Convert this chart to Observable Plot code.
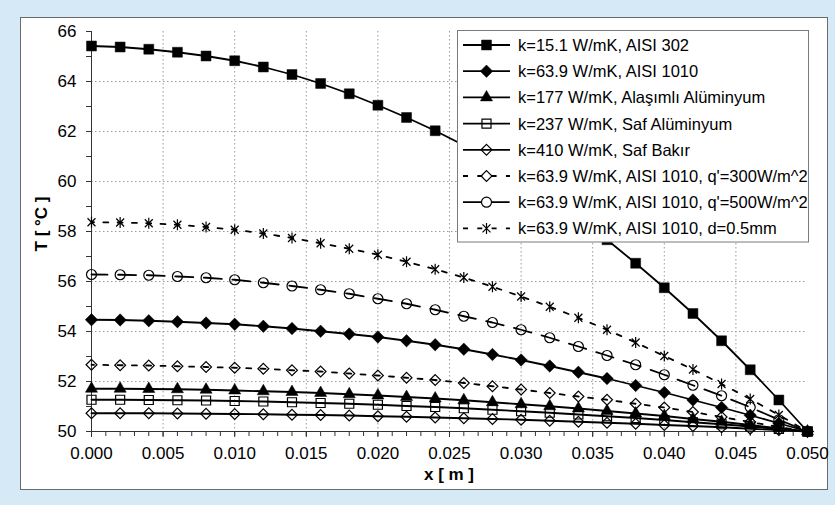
<!DOCTYPE html>
<html><head><meta charset="utf-8">
<script src="https://cdn.jsdelivr.net/npm/d3@7"></script>
<script src="https://cdn.jsdelivr.net/npm/@observablehq/plot@0.6"></script>
<style>
body{margin:0;background:#d6e9f7;}
#wrap{position:relative;width:835px;height:505px;background:#d6e9f7;overflow:hidden;font-family:"Liberation Sans",Arial,sans-serif;}
#frame{position:absolute;left:20px;top:17px;width:808px;height:473px;background:#fff;border:1px solid #6b6b6b;box-sizing:border-box;}
#chart{position:absolute;left:0;top:0;}
.title{position:absolute;font-weight:bold;font-size:17px;color:#000;white-space:nowrap;line-height:1;}
#legend{position:absolute;left:0;top:0;}
</style></head>
<body><div id="wrap"><div id="frame"></div><div id="chart"></div>
<div class="title" id="xt" style="left:449px;top:474px;transform:translate(-50%,-50%);">x [ m ]</div>
<div class="title" id="yt" style="left:41px;top:224px;transform:translate(-50%,-50%) rotate(-90deg);">T [ °C ]</div>
<svg id="legend" width="835" height="505"></svg></div>
<script>
// ---- data ----
const xs = [0,0.002,0.004,0.006,0.008,0.010,0.012,0.014,0.016,0.018,0.020,0.022,0.024,0.026,0.028,0.030,0.032,0.034,0.036,0.038,0.040,0.042,0.044,0.046,0.048,0.050];
const seriesNames = [
  "k=15.1 W/mK, AISI 302",
  "k=63.9 W/mK, AISI 1010",
  "k=177 W/mK, Alaşımlı Alüminyum",
  "k=237 W/mK, Saf Alüminyum",
  "k=410 W/mK, Saf Bakır",
  "k=63.9 W/mK, AISI 1010, q'=300W/m^2",
  "k=63.9 W/mK, AISI 1010, q'=500W/m^2",
  "k=63.9 W/mK, AISI 1010, d=0.5mm"
];
const tAISI302 = [65.42,65.38,65.29,65.17,65.02,64.83,64.58,64.28,63.92,63.51,63.05,62.56,62.03,61.45,60.82,60.13,59.38,58.56,57.67,56.73,55.75,54.72,53.63,52.47,51.26,50.00];
const tAISI1010 = [54.47,54.46,54.43,54.39,54.34,54.29,54.21,54.12,54.01,53.90,53.78,53.63,53.47,53.29,53.08,52.86,52.62,52.37,52.12,51.84,51.56,51.26,50.96,50.65,50.33,50.00];
const tAlasimli = [51.71,51.71,51.70,51.69,51.67,51.64,51.61,51.58,51.54,51.49,51.44,51.38,51.32,51.25,51.17,51.09,51.01,50.92,50.82,50.72,50.62,50.50,50.39,50.26,50.13,50.00];
const tSafAl = [51.27,51.27,51.26,51.25,51.24,51.22,51.20,51.17,51.14,51.11,51.07,51.02,50.98,50.93,50.87,50.81,50.75,50.68,50.61,50.54,50.46,50.37,50.29,50.20,50.10,50.00];
const tSafBakir = [50.73,50.73,50.73,50.72,50.71,50.70,50.69,50.67,50.66,50.64,50.61,50.59,50.56,50.53,50.50,50.47,50.43,50.39,50.35,50.31,50.26,50.22,50.17,50.11,50.06,50.00];
const tQ300 = [52.67,52.65,52.64,52.61,52.58,52.55,52.51,52.45,52.40,52.32,52.24,52.15,52.06,51.94,51.81,51.68,51.54,51.40,51.27,51.11,50.96,50.78,50.58,50.38,50.18,50.00];
const tQ500 = [56.28,56.27,56.25,56.20,56.15,56.07,55.95,55.82,55.67,55.51,55.31,55.11,54.87,54.61,54.36,54.07,53.75,53.40,53.04,52.67,52.27,51.85,51.43,50.97,50.47,50.00];
const tD05 = [58.37,58.36,58.33,58.27,58.18,58.07,57.92,57.74,57.53,57.31,57.07,56.79,56.49,56.16,55.79,55.40,54.99,54.55,54.07,53.56,53.02,52.48,51.90,51.30,50.66,50.00];
const xMajor = [0,0.005,0.010,0.015,0.020,0.025,0.030,0.035,0.040,0.045,0.050];
const xMinor = [0,0.001,0.002,0.003,0.004,0.005,0.006,0.007,0.008,0.009,0.010,0.011,0.012,0.013,0.014,0.015,0.016,0.017,0.018,0.019,0.020,0.021,0.022,0.023,0.024,0.025,0.026,0.027,0.028,0.029,0.030,0.031,0.032,0.033,0.034,0.035,0.036,0.037,0.038,0.039,0.040,0.041,0.042,0.043,0.044,0.045,0.046,0.047,0.048,0.049,0.050];
const yMajor = [50,52,54,56,58,60,62,64,66];
const yMinor = [50,51,52,53,54,55,56,57,58,59,60,61,62,63,64,65,66];

// ---- styles ----
const asterisk = {draw(ctx, size){ const r = Math.sqrt(size/Math.PI); const d = r*0.72;
  ctx.moveTo(0,-r); ctx.lineTo(0,r); ctx.moveTo(-d,-d); ctx.lineTo(d,d); ctx.moveTo(-d,d); ctx.lineTo(d,-d);} };
const values = [tAISI302,tAISI1010,tAlasimli,tSafAl,tSafBakir,tQ300,tQ500,tD05];
const styles = [
  {sym:d3.symbolSquare, r:5.6, fill:"black", dash:null, off:0},
  {sym:d3.symbolDiamond2, r:5.6, fill:"black", dash:null, off:0},
  {sym:d3.symbolTriangle, r:4.5, fill:"black", dash:null, off:0},
  {sym:d3.symbolSquare, r:5.1, fill:"none", dash:null, off:0},
  {sym:d3.symbolDiamond2, r:4.9, fill:"none", dash:null, off:0},
  {sym:d3.symbolDiamond2, r:4.9, fill:"none", dash:"5,9.3", off:2.5},
  {sym:d3.symbolCircle, r:5, fill:"none", dash:"18,10.6", off:2},
  {sym:asterisk, r:5.5, fill:"none", dash:"5,9.3", off:2.5}
];

const seriesMarks = [];
values.forEach((vals, i) => {
  const data = xs.map((x, j) => ({x, y: vals[j]}));
  const s = styles[i];
  seriesMarks.push(Plot.line(data, {x:"x", y:"y", stroke:"black", strokeWidth:1.8,
    strokeDasharray: s.dash || undefined, strokeDashoffset: s.off || undefined}));
  seriesMarks.push(Plot.dot(data, {x:"x", y:"y", symbol: s.sym, r: s.r,
    fill: s.fill, stroke:"black", strokeWidth: s.fill === "none" ? 1.2 : 0.5}));
});

const mL=91, mR=28, mT=31, mB=74;
const chart = Plot.plot({
  width:835, height:505, marginLeft:mL, marginRight:mR, marginTop:mT, marginBottom:mB,
  style:{background:"transparent", fontFamily:"'Liberation Sans', Arial, sans-serif", fontSize:"17px", color:"black"},
  x:{domain:[0,0.05]}, y:{domain:[50,66]},
  marks:[
    Plot.gridX(xMajor.filter(v => v > 0 && v < 0.05), {stroke:"#9a9a9a", strokeOpacity:1, strokeDasharray:"1.5,2.5"}),
    Plot.gridY(yMajor.filter(v => v > 50 && v < 66), {stroke:"#9a9a9a", strokeOpacity:1, strokeDasharray:"1.5,2.5"}),
    Plot.axisX(xMinor, {tickSize:5, text:null, stroke:"#333", label:null}),
    Plot.axisX(xMajor, {tickSize:6, tickPadding:9, tickFormat:d3.format(".3f"), fontSize:17, stroke:"#333", label:null}),
    Plot.axisY(yMinor, {tickSize:5, text:null, stroke:"#333", label:null}),
    Plot.axisY(yMajor, {tickSize:5, tickPadding:10, tickFormat:d3.format("d"), fontSize:17, stroke:"#333", label:null}),
    Plot.ruleX([0], {stroke:"#333"}),
    Plot.ruleY([50], {stroke:"#333"}),
    ...seriesMarks
  ]
});
document.getElementById("chart").appendChild(chart);

// ---- legend ----
const lg = d3.select("#legend");
const L = {x:457, y:30.5, w:351, h:211.5, row0:45, step:26.2, lx0:463, lx1:510, mx:486.5, tx:518};
lg.append("rect").attr("x",L.x+0.5).attr("y",L.y).attr("width",L.w).attr("height",L.h)
  .attr("fill","white").attr("stroke","#7a7a7a").attr("stroke-width",1);
seriesNames.forEach((name, i) => {
  const s = styles[i]; const cy = L.row0 + i*L.step;
  const ln = lg.append("line").attr("x1",L.lx0).attr("x2",L.lx1).attr("y1",cy).attr("y2",cy)
    .attr("stroke","black").attr("stroke-width",1.8);
  if (s.dash) ln.attr("stroke-dasharray", s.dash);
  lg.append("path").attr("transform",`translate(${L.mx},${cy})`)
    .attr("d", d3.symbol(s.sym, Math.PI*s.r*s.r)())
    .attr("fill", s.fill).attr("stroke","black").attr("stroke-width", s.fill === "none" ? 1.2 : 0.5);
  lg.append("text").attr("x",L.tx).attr("y",cy).attr("dy","0.36em")
    .attr("font-family","'Liberation Sans', Arial, sans-serif").attr("font-size","16.5px").text(name);
});
</script>
</body></html>
